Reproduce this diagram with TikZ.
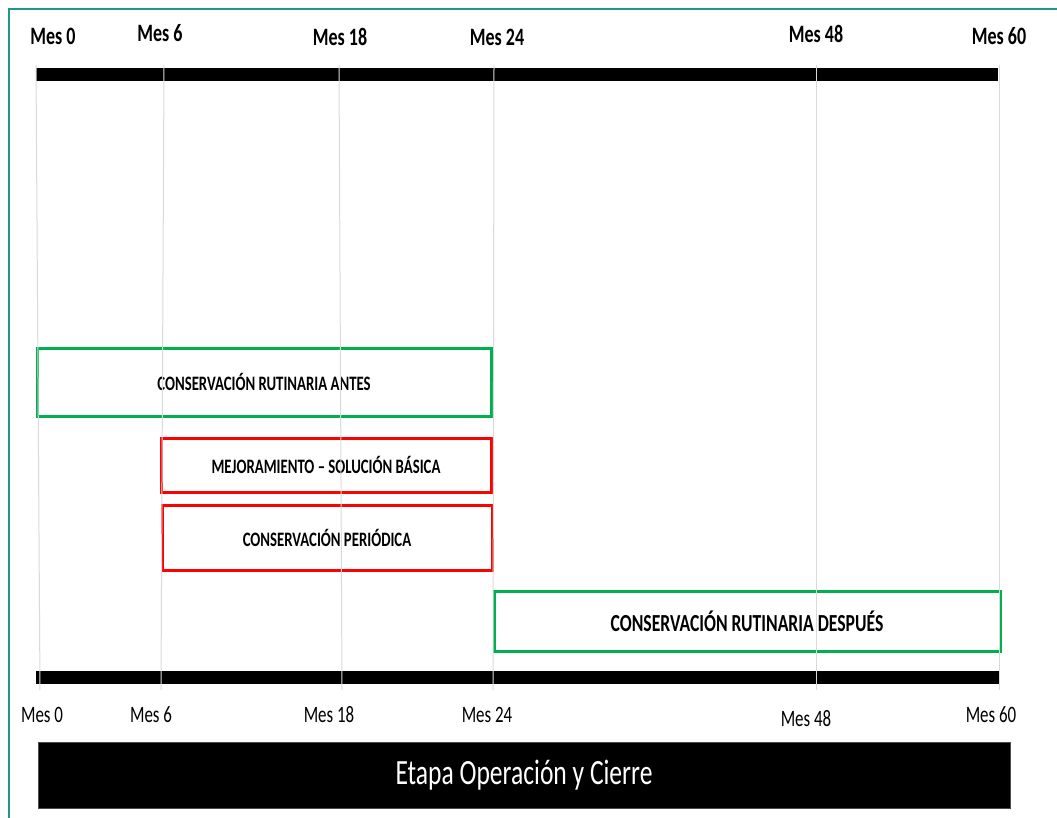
\documentclass[tikz,border=0pt]{standalone}
\usepackage{fontspec}
\setmainfont{Carlito}[FakeStretch=0.72]
\definecolor{frameteal}{RGB}{30,150,140}
\definecolor{boxgreen}{RGB}{0,176,80}
\definecolor{boxred}{RGB}{255,0,0}
\definecolor{gridgrey}{RGB}{217,217,217}
\tikzset{
  toplabel/.style={font=\bfseries\fontsize{25}{25}\selectfont, inner sep=0pt},
  botlabel/.style={font=\fontsize{23.5}{23.5}\selectfont, inner sep=0pt},
  bar/.style={fill=black, draw=none, anchor=north west, inner sep=0pt, outer sep=0pt},
  phase/.style={draw, line width=3pt, anchor=north west, inner sep=0pt, outer sep=0pt},
  phasetext/.style={font=\bfseries\fontsize{20.5}{20.5}\selectfont, text=black, inner sep=0pt},
  gridline/.style={draw=gridgrey, line width=1pt},
  stagebox/.style={fill=black, draw=black!70, anchor=north west, inner sep=0pt, outer sep=0pt}
}
\begin{document}
\begin{tikzpicture}[x=1pt, y=-1pt]
\useasboundingbox (0,0) rectangle (1057,817);
% frame
\draw[frameteal, line width=2pt] (9,830) -- (9,9) -- (1070,9);
% bars
\node[bar, minimum width=962, minimum height=13] (topbar) at (36,68) {};
\node[bar, minimum width=963, minimum height=13] (botbar) at (36,671) {};
% phase boxes
\node[phase, draw=boxgreen, minimum width=454, minimum height=68] (antes) at (37,348) {};
\node[phasetext] (antestext) at (antes.center) {CONSERVACIÓN RUTINARIA ANTES};
\node[phase, draw=boxred, minimum width=330, minimum height=54] (mejora) at (161,438) {};
\node[phasetext] (mejoratext) at (mejora.center) {MEJORAMIENTO – SOLUCIÓN BÁSICA};
\node[phase, draw=boxred, minimum width=330, minimum height=65] (periodica) at (162,505) {};
\node[phasetext] (periodicatext) at (periodica.center) {CONSERVACIÓN PERIÓDICA};
\node[phase, draw=boxgreen, minimum width=506, minimum height=60] (despues) at (494,591) {};
\node[phasetext, font=\bfseries\fontsize{24.5}{24.5}\selectfont] (despuestext) at (despues.center) {CONSERVACIÓN RUTINARIA DESPUÉS};
% grid lines
\draw[gridline] (36,65) -- (40,690);
\draw[gridline] (164,65) -- (161,690);
\draw[gridline] (339,65) -- (342,690);
\draw[gridline] (494,65) -- (493,690);
\draw[gridline] (816,65) -- (816,690);
\draw[gridline] (999,65) -- (999,690);
% top labels
\node[toplabel] (t0) at (53,36) {Mes 0};
\node[toplabel] (t6) at (160,33) {Mes 6};
\node[toplabel] (t18) at (340,37) {Mes 18};
\node[toplabel] (t24) at (497,37) {Mes 24};
\node[toplabel] (t48) at (816,34) {Mes 48};
\node[toplabel] (t60) at (999,36) {Mes 60};
% bottom labels
\node[botlabel] (b0) at (42,715) {Mes 0};
\node[botlabel] (b6) at (151,715) {Mes 6};
\node[botlabel] (b18) at (329,715) {Mes 18};
\node[botlabel] (b24) at (487,715) {Mes 24};
\node[botlabel] (b48) at (806,719) {Mes 48};
\node[botlabel] (b60) at (991,715) {Mes 60};
% stage box
\node[stagebox, minimum width=972, minimum height=66] (stage) at (38,742) {};
\node[text=white, font=\fontsize{35.5}{35.5}\selectfont, inner sep=0pt] (stagetext) at (stage.center) {Etapa Operación y Cierre};
\end{tikzpicture}
\end{document}
